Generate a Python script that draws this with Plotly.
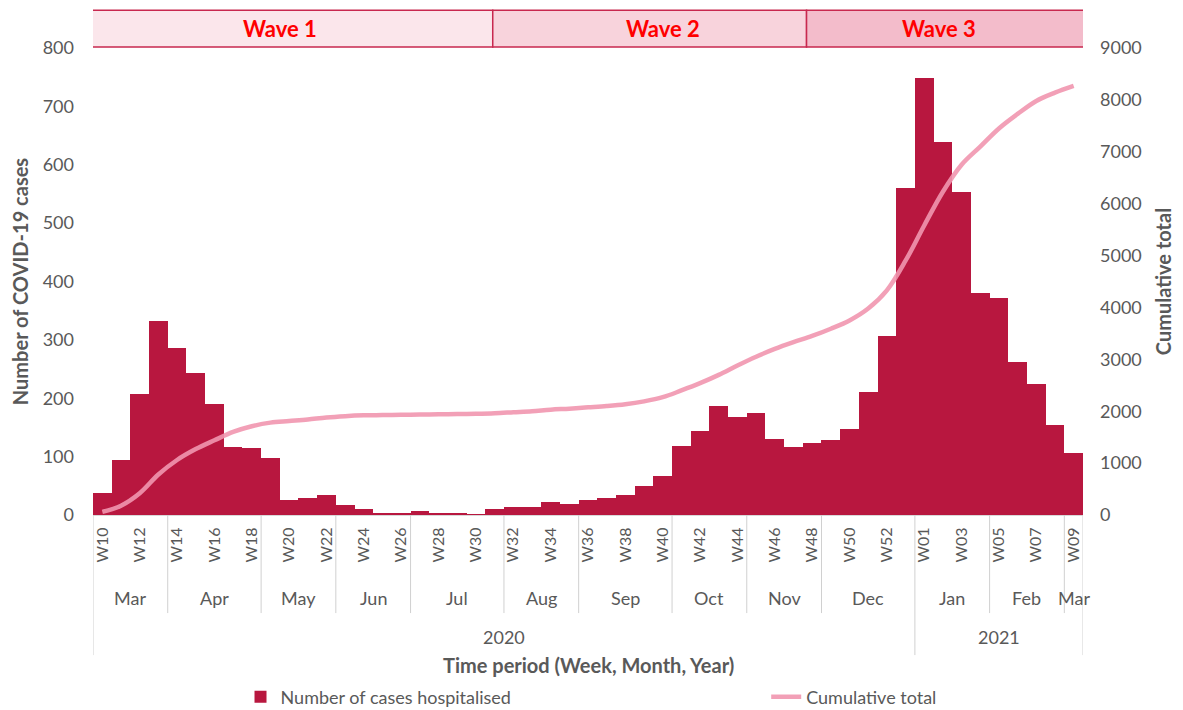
import plotly.graph_objects as go

# weekly hospitalisations, W10 2020 .. W09 2021
weeks = ["W10", "W11", "W12", "W13", "W14", "W15", "W16", "W17", "W18", "W19",
         "W20", "W21", "W22", "W23", "W24", "W25", "W26", "W27", "W28", "W29",
         "W30", "W31", "W32", "W33", "W34", "W35", "W36", "W37", "W38", "W39",
         "W40", "W41", "W42", "W43", "W44", "W45", "W46", "W47", "W48", "W49",
         "W50", "W51", "W52", "W53", "W01", "W02", "W03", "W04", "W05", "W06",
         "W07", "W08", "W09"]
months = ["Mar"] * 4 + ["Apr"] * 5 + ["May"] * 4 + ["Jun"] * 4 + ["Jul"] * 5 + \
         ["Aug"] * 4 + ["Sep"] * 5 + ["Oct"] * 4 + ["Nov"] * 4 + ["Dec"] * 5 + \
         ["Jan "] * 4 + ["Feb "] * 4 + ["Mar "] * 1
years = ["2020"] * 44 + ["2021"] * 9

cases = [38, 95, 207, 332, 286, 244, 190, 117, 114, 98,
         26, 29, 35, 17, 10, 4, 4, 7, 4, 4,
         1, 10, 14, 13, 22, 19, 25, 29, 35, 50,
         67, 119, 144, 186, 168, 174, 131, 117, 123, 128,
         147, 210, 307, 560, 748, 639, 554, 381, 371, 262,
         225, 154, 107]
cumulative = [60, 180, 420, 780, 1060, 1270, 1440, 1600, 1710, 1780,
              1810, 1840, 1880, 1905, 1920, 1925, 1930, 1935, 1940, 1945,
              1950, 1960, 1980, 2000, 2030, 2050, 2075, 2100, 2135, 2190,
              2270, 2400, 2540, 2700, 2880, 3050, 3200, 3330, 3450, 3590,
              3750, 3980, 4330, 4900, 5580, 6230, 6750, 7100, 7450, 7730,
              7980, 8140, 8270]

waves = ["Wave 1", "Wave 2", "Wave 3"]
wave_edges = [-0.6, 20.9, 37.7, 53.2]
wave_text_x = [9.5, 30.0, 44.8]
wave_fills = ["#fbe6eb", "#f8d3dc", "#f3bccb"]

FONT = "Lato"
GREY = "#595959"
BAR = "#b8173f"
LINE = "rgba(241,150,175,0.9)"

idx = list(range(len(weeks)))

fig = go.Figure()
fig.add_trace(go.Bar(x=idx, y=cases, name="Number of cases hospitalised",
                     marker=dict(color=BAR, line=dict(width=0)), legend="legend"))
fig.add_trace(go.Scatter(x=idx, y=cumulative, name="Cumulative total", yaxis="y2",
                         mode="lines", line=dict(color=LINE, width=4.5, shape="spline"),
                         legend="legend2"))

shapes = []
annotations = []

# wave boxes on top
for i, w in enumerate(waves):
    shapes.append(dict(type="rect", xref="x", yref="paper",
                       x0=wave_edges[i], x1=wave_edges[i + 1], y0=1.002, y1=1.081,
                       fillcolor=wave_fills[i], line=dict(color="#c8284f", width=1.5)))
    annotations.append(dict(xref="x", yref="paper", yanchor="middle",
                            x=wave_text_x[i], y=1.041,
                            text="<b>%s</b>" % w, showarrow=False,
                            font=dict(family=FONT, size=22, color="#ff0000")))

# month groups and separators
start = 0
for i in range(1, len(months) + 1):
    if i == len(months) or months[i] != months[start]:
        annotations.append(dict(xref="x", yref="paper", yanchor="middle",
                                x=(start + i - 1) / 2, y=-0.178,
                                text=months[start].strip(), showarrow=False,
                                font=dict(family=FONT, size=18, color=GREY)))
        start = i

for i in range(len(months) + 1):
    new_month = i == 0 or i == len(months) or months[i] != months[i - 1]
    new_year = i == 0 or i == len(years) or years[i] != years[i - 1]
    if new_month or new_year:
        shapes.append(dict(type="line", xref="x", yref="paper", x0=i - 0.5, x1=i - 0.5,
                           y0=0, y1=-0.30 if new_year else -0.21,
                           line=dict(color="#d0d0d0", width=1)))

# year groups
start = 0
for i in range(1, len(years) + 1):
    if i == len(years) or years[i] != years[start]:
        annotations.append(dict(xref="x", yref="paper", yanchor="middle",
                                x=(start + i - 1) / 2, y=-0.262,
                                text=years[start], showarrow=False,
                                font=dict(family=FONT, size=18, color=GREY)))
        start = i

annotations.append(dict(xref="paper", yref="paper", yanchor="middle", x=0.5, y=-0.322,
                        text="<b>Time period (Week, Month, Year)</b>", showarrow=False,
                        font=dict(family=FONT, size=20, color=GREY)))

fig.update_layout(
    width=1183, height=710,
    margin=dict(l=85, r=108, t=40, b=203, autoexpand=False),
    plot_bgcolor="white", paper_bgcolor="white",
    bargap=0,
    font=dict(family=FONT, size=17, color=GREY),
    xaxis=dict(range=[-0.5, len(weeks) - 0.5], tickvals=idx[::2], ticktext=weeks[::2],
               tickangle=-90, showgrid=False, showline=True, linecolor="#d9d9d9",
               ticks="", tickfont=dict(family=FONT, size=16, color=GREY),
               ticklabelstandoff=5, automargin=False),
    yaxis=dict(range=[0, 800], dtick=100, showgrid=False, zeroline=False,
               automargin=False, ticklabelstandoff=18,
               title=dict(text="<b>Number of COVID-19 cases</b>", standoff=8,
                          font=dict(family=FONT, size=20, color=GREY)),
               tickfont=dict(family=FONT, size=18, color=GREY)),
    yaxis2=dict(range=[0, 9000], dtick=1000, overlaying="y", side="right",
                showgrid=False, zeroline=False, automargin=False, ticklabelstandoff=16,
                title=dict(text="<b>Cumulative total</b>", standoff=16,
                           font=dict(family=FONT, size=20, color=GREY)),
                tickfont=dict(family=FONT, size=18, color=GREY)),
    legend=dict(orientation="h", x=0.149, xanchor="left", y=-0.39, yanchor="middle",
                font=dict(family=FONT, size=18, color=GREY)),
    legend2=dict(orientation="h", x=0.68, xanchor="left", y=-0.39, yanchor="middle",
                 font=dict(family=FONT, size=18, color=GREY)),
    showlegend=True,
    shapes=shapes,
    annotations=annotations,
)

fig.write_html("out.html")
